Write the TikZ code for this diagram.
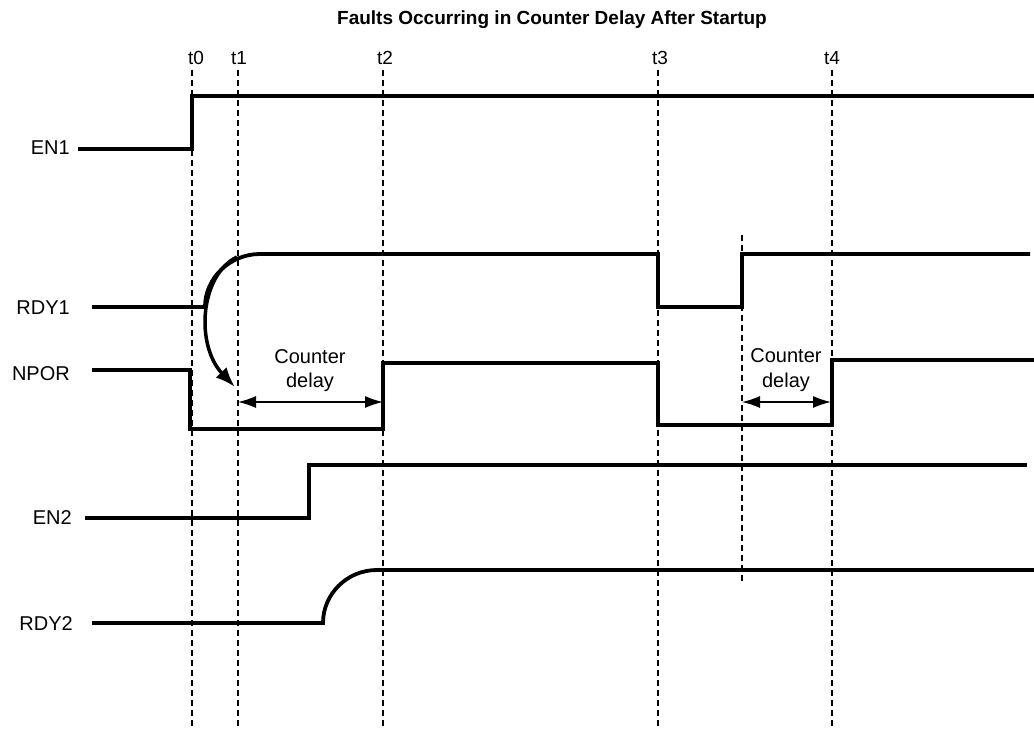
\documentclass[tikz,border=0pt]{standalone}
\usepackage{fontspec}
\setmainfont{Liberation Sans}
\usetikzlibrary{arrows.meta}
\begin{document}
\begin{tikzpicture}[x=1pt,y=-1pt,
  sig/.style={line width=3.8pt, line join=miter, line cap=butt},
  gridline/.style={line width=1.4pt, dash pattern=on 6pt off 4pt},
  lbl/.style={font=\fontsize{20}{24}\selectfont, inner sep=0pt, anchor=east},
  tlbl/.style={font=\fontsize{19}{23}\selectfont, inner sep=0pt},
  cdtext/.style={font=\fontsize{20}{24}\selectfont, inner sep=0pt, anchor=base},
  dimarrow/.style={line width=1.3pt, {Latex[length=18pt,width=12pt]}-{Latex[length=18pt,width=12pt]}},
  causearrow/.style={line width=3.5pt, -{Latex[length=20pt,width=15pt]}}
]
\useasboundingbox (0,0) rectangle (1034,730);

% title
\node[font=\bfseries\fontsize{19}{23}\selectfont, inner sep=0pt, anchor=base] (title) at (552,25) {Faults Occurring in Counter Delay After Startup};

% time markers
\foreach \n/\x/\lx in {0/192/196, 1/238/239, 2/383/385, 3/658/660, 4/832/832}{
  \coordinate (t\n top) at (\x,70);
  \coordinate (t\n bot) at (\x,730);
  \node[tlbl] (tl\n) at (\lx,58) {t\n};
  \draw[gridline] (t\n top) -- (t\n bot);
}
\coordinate (mtop) at (742,235);
\coordinate (mbot) at (742,582);
\draw[gridline] (mtop) -- (mbot);

% signal labels
\node[lbl] (en1) at (70,148) {EN1};
\node[lbl] (rdy1) at (70,308) {RDY1};
\node[lbl] (npor) at (70,374) {NPOR};
\node[lbl] (en2) at (72,518) {EN2};
\node[lbl] (rdy2) at (73,624) {RDY2};

% waveforms
\draw[sig] (78,149) -- (192,149) -- (192,96) -- (1034,96);
\draw[sig] (92,307) -- (205,307) .. controls (205,278) and (230,254) .. (260,254)
  -- (658,254) -- (658,307) -- (742,307) -- (742,254) -- (1030,254);
\draw[sig] (92,370) -- (190,370) -- (190,429) -- (383,429) -- (383,363)
  -- (658,363) -- (658,425) -- (832,425) -- (832,360) -- (1034,360);
\draw[sig] (85,518) -- (309,518) -- (309,465) -- (1027,465);
\draw[sig] (92,623) -- (323,623) .. controls (323,594) and (347,570) .. (377,570) -- (1034,570);

% cause arrow RDY1 -> NPOR
\coordinate (cs) at (237,257);
\coordinate (ce) at (235,387);
\draw[causearrow] (cs) .. controls (200,275) and (195,345) .. (ce);

% counter delay 1
\coordinate (d1a) at (238,402);
\coordinate (d1b) at (383,402);
\draw[dimarrow] (d1a) -- (d1b);
\node[cdtext] (cd1a) at (310,363) {Counter};
\node[cdtext] (cd1b) at (310,387) {delay};

% counter delay 2
\coordinate (d2a) at (742,402);
\coordinate (d2b) at (831,402);
\draw[dimarrow] (d2a) -- (d2b);
\node[cdtext] (cd2a) at (786,362) {Counter};
\node[cdtext] (cd2b) at (786,387) {delay};
\end{tikzpicture}
\end{document}
